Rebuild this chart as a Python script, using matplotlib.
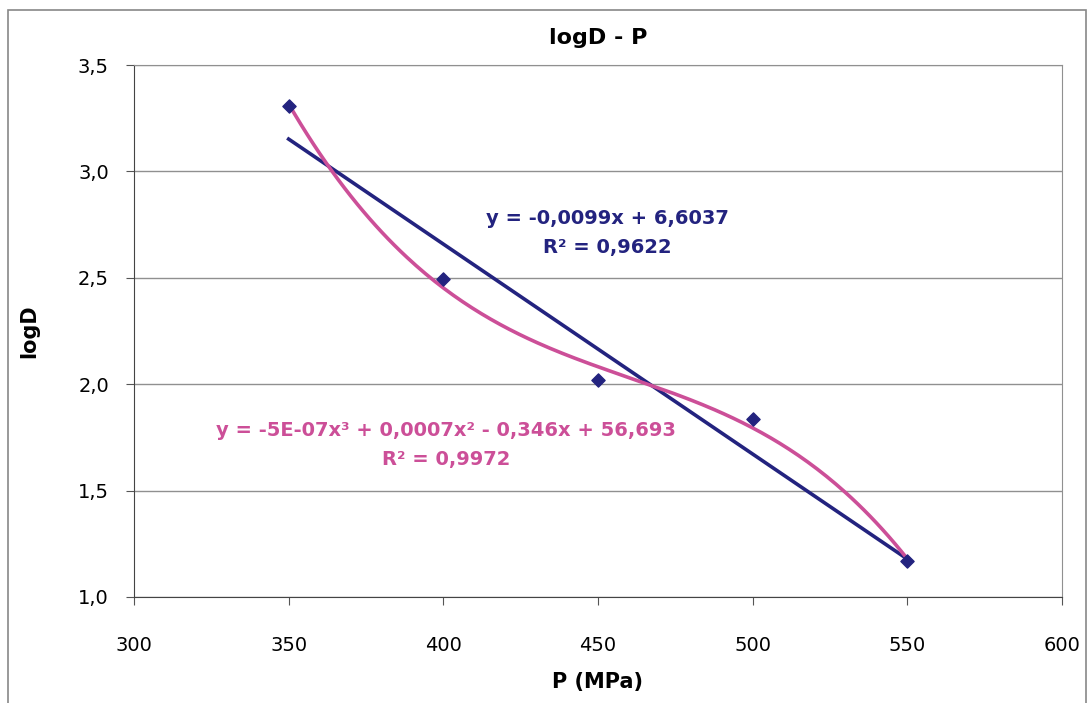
import matplotlib.pyplot as plt
import matplotlib.patches as mpatches
import numpy as np

# data
P = [350, 400, 450, 500, 550]
logD = [3.307, 2.494, 2.02, 1.836, 1.169]

x_ticks = [300, 350, 400, 450, 500, 550, 600]
y_ticks = [1.0, 1.5, 2.0, 2.5, 3.0, 3.5]
y_labels = ['1,0', '1,5', '2,0', '2,5', '3,0', '3,5']

lin_text = 'y = -0,0099x + 6,6037\nR² = 0,9622'
poly_text = 'y = -5E-07x³ + 0,0007x² - 0,346x + 56,693\nR² = 0,9972'

navy = '#23237f'
pink = '#cc4f98'

fig = plt.figure(figsize=(10.9, 7.03), dpi=100)
ax = fig.add_axes([0.1229, 0.1508, 0.8514, 0.7567])

# trendlines (Excel-style least squares fits of the points)
xs = np.linspace(P[0], P[-1], 200)
lin = np.polyfit(P, logD, 1)
cub = np.polyfit(P, logD, 3)
ax.plot(xs, np.polyval(lin, xs), color=navy, lw=2.6, zorder=3)
ax.plot(xs, np.polyval(cub, xs), color=pink, lw=2.6, zorder=4)
ax.scatter(P, logD, marker='D', s=45, color=navy, zorder=5)

ax.set_xlim(300, 600)
ax.set_ylim(1.0, 3.5)
ax.set_xticks(x_ticks)
ax.set_xticklabels([str(t) for t in x_ticks], fontsize=14)
ax.set_yticks(y_ticks)
ax.set_yticklabels(y_labels, fontsize=14)
ax.tick_params(direction='out', length=6, color='#555555')
ax.tick_params(axis='x', pad=22)
ax.tick_params(axis='y', pad=12)
ax.grid(axis='y', color='#909090', lw=1)
ax.set_axisbelow(True)
for s in ['top', 'right']:
    ax.spines[s].set_color('#909090')
for s in ['left', 'bottom']:
    ax.spines[s].set_color('#444444')

ax.set_title('logD - P', fontsize=16, fontweight='bold', pad=15)
ax.set_xlabel('P (MPa)', fontsize=15, fontweight='bold', labelpad=12)
ax.set_ylabel('logD', fontsize=15, fontweight='bold', labelpad=28)

ax.text(453, 2.71, lin_text, color=navy, fontsize=14, fontweight='bold',
        ha='center', va='center', linespacing=1.65)
ax.text(401, 1.714, poly_text, color=pink, fontsize=14, fontweight='bold',
        ha='center', va='center', linespacing=1.65)

# outer chart frame
frame = mpatches.Rectangle((8 / 1090, -0.01), 1078 / 1090, 1 - 10 / 703 + 0.01,
                           transform=fig.transFigure, fill=False,
                           edgecolor='#888888', lw=1.2)
fig.patches.append(frame)

fig.savefig('out.png', dpi=100)
